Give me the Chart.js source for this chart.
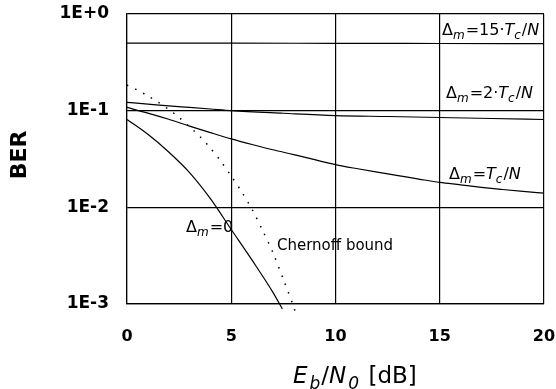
<!DOCTYPE html>
<html>
<head>
<meta charset="utf-8">
<script src="https://cdn.jsdelivr.net/npm/chart.js@4/dist/chart.umd.min.js"></script>
<style>
    body { margin: 0; background: #fff; }
    #wrap { width: 556px; height: 389px; position: relative; }
</style>
</head>
<body>
<div id="wrap"><canvas id="berChart"></canvas></div>
<script>
// Eb/N0 [dB] and BER values
const xDelta15 = [0, 5, 10, 15, 20];
const berDelta15 = [0.50, 0.50, 0.497, 0.495, 0.493];

const xDelta2 = [0, 1, 2, 3, 4, 5, 7.5, 10, 12.5, 15, 17.5, 20];
const berDelta2 = [0.122, 0.117, 0.112, 0.108, 0.104, 0.100, 0.094, 0.089, 0.087, 0.085, 0.083, 0.081];

const xDelta1 = [0, 1, 2, 3, 4, 5, 6, 7, 8, 9, 10, 11, 12, 13, 14, 15, 16, 17, 18, 19, 20];
const berDelta1 = [0.108, 0.0944, 0.0815, 0.0692, 0.0593, 0.0511, 0.0447, 0.0394, 0.0351, 0.0311, 0.0277,
    0.0252, 0.0231, 0.0213, 0.0196, 0.0181, 0.0171, 0.0161, 0.0153, 0.0146, 0.0140];

const xDelta0 = [0, 1, 2, 3, 4, 5, 6, 7, 7.45];
const berDelta0 = [0.081, 0.0569, 0.0374, 0.0229, 0.0123, 0.0059, 0.00284, 0.00132, 0.00089];

const xChernoff = [0, 0.5, 1, 1.5, 2, 2.5, 3, 3.5, 4, 4.5, 5, 5.5, 6, 6.5, 7, 7.5, 8, 8.05];
const berChernoff = [0.184, 0.163, 0.142, 0.122, 0.103, 0.085, 0.068, 0.054, 0.041, 0.030, 0.021,
    0.0145, 0.0095, 0.0058, 0.0034, 0.0018, 0.00093, 0.00085];

const xTickValues = [0, 5, 10, 15, 20];
const yTickValues = [0.001, 0.01, 0.1, 1];
const yTickLabels = ['1E-3', '1E-2', '1E-1', '1E+0'];

const FONT = '"DejaVu Sans", sans-serif';

function toPoints(xs, ys) {
    return xs.map((x, i) => ({ x: x, y: ys[i] }));
}

function lineSet(label, xs, ys, extra) {
    return Object.assign({
        label: label,
        data: toPoints(xs, ys),
        borderColor: '#000',
        borderWidth: 1.2,
        pointRadius: 0,
        fill: false,
        cubicInterpolationMode: 'monotone',
        clip: { left: 0, top: 0, right: 0, bottom: 8 }
    }, extra || {});
}

// draws text made of parts, some italic and/or subscript
function drawRich(ctx, x, y, parts, size) {
    parts.forEach(p => {
        const fs = p.sub ? Math.round(size * 0.72) : size;
        ctx.font = (p.italic ? 'italic ' : '') + fs + 'px ' + FONT;
        ctx.fillText(p.t, x, y + (p.sub ? size * 0.28 : 0));
        x += ctx.measureText(p.t).width + (p.gap || 0);
    });
}

const labelsPlugin = {
    id: 'labels',
    afterDraw(chart) {
        const ctx = chart.ctx;
        ctx.save();
        ctx.fillStyle = '#000';
        ctx.textBaseline = 'alphabetic';
        ctx.textAlign = 'left';

        const dm = [{ t: 'Δ' }, { t: 'm', italic: true, sub: true, gap: 1 }];
        const tcn = [{ t: 'T', italic: true }, { t: 'c', italic: true, sub: true, gap: 1 }, { t: '/' }, { t: 'N', italic: true }];

        drawRich(ctx, 442, 35, dm.concat([{ t: '=15·' }], tcn), 16);
        drawRich(ctx, 446, 98, dm.concat([{ t: '=2·' }], tcn), 16);
        drawRich(ctx, 449, 179, dm.concat([{ t: '=' }], tcn), 16);
        drawRich(ctx, 186, 232, dm.concat([{ t: '=0' }]), 16);

        ctx.font = '15px ' + FONT;
        ctx.fillText('Chernoff bound', 277, 250);

        // x axis title
        drawRich(ctx, 293, 383, [
            { t: 'E', italic: true, gap: 2 },
            { t: 'b', italic: true, sub: true, gap: 1 },
            { t: '/' },
            { t: 'N', italic: true, gap: 2 },
            { t: '0', italic: true, sub: true, gap: 2 },
            { t: ' [dB]' }
        ], 23);

        // y axis title
        ctx.translate(20, 155);
        ctx.rotate(-Math.PI / 2);
        ctx.textAlign = 'center';
        ctx.textBaseline = 'middle';
        ctx.font = 'bold 22px ' + FONT;
        ctx.fillText('BER', 0, 0);
        ctx.restore();
    }
};

const ctx = document.getElementById('berChart').getContext('2d');
new Chart(ctx, {
    type: 'line',
    data: {
        datasets: [
            lineSet('15 Tc/N', xDelta15, berDelta15),
            lineSet('2 Tc/N', xDelta2, berDelta2),
            lineSet('Tc/N', xDelta1, berDelta1),
            lineSet('0', xDelta0, berDelta0),
            lineSet('Chernoff bound', xChernoff, berChernoff, {
                borderWidth: 1.5,
                borderDash: [1.5, 7.5],
                cubicInterpolationMode: 'default',
                tension: 0.3
            })
        ]
    },
    options: {
        responsive: true,
        maintainAspectRatio: false,
        animation: false,
        layout: { padding: { top: 14, right: 12, bottom: 0, left: 0 } },
        plugins: {
            legend: { display: false },
            tooltip: { enabled: false }
        },
        scales: {
            x: {
                type: 'linear',
                min: 0,
                max: 20,
                afterBuildTicks: s => { s.ticks = xTickValues.map(v => ({ value: v })); },
                ticks: { color: '#000', font: { family: FONT, size: 16, weight: 'bold' }, padding: 23 },
                grid: { color: '#000', lineWidth: 1.2, drawTicks: false },
                border: { color: '#000', width: 1.2 },
                afterFit: s => {
                    s.height = 85;
                    s.paddingLeft = 0;
                    s.paddingRight = 0;
                }
            },
            y: {
                type: 'logarithmic',
                min: 0.001,
                max: 1,
                afterBuildTicks: s => { s.ticks = yTickValues.map(v => ({ value: v })); },
                ticks: {
                    color: '#000',
                    font: { family: FONT, size: 17, weight: 'bold' },
                    padding: 18,
                    callback: (v, i) => yTickLabels[i]
                },
                grid: { color: '#000', lineWidth: 1.2, drawTicks: false },
                border: { color: '#000', width: 1.2 },
                afterFit: s => {
                    s.width = 127;
                    s.paddingTop = 0;
                    s.paddingBottom = 0;
                }
            }
        }
    },
    plugins: [labelsPlugin]
});
</script>
</body>
</html>
